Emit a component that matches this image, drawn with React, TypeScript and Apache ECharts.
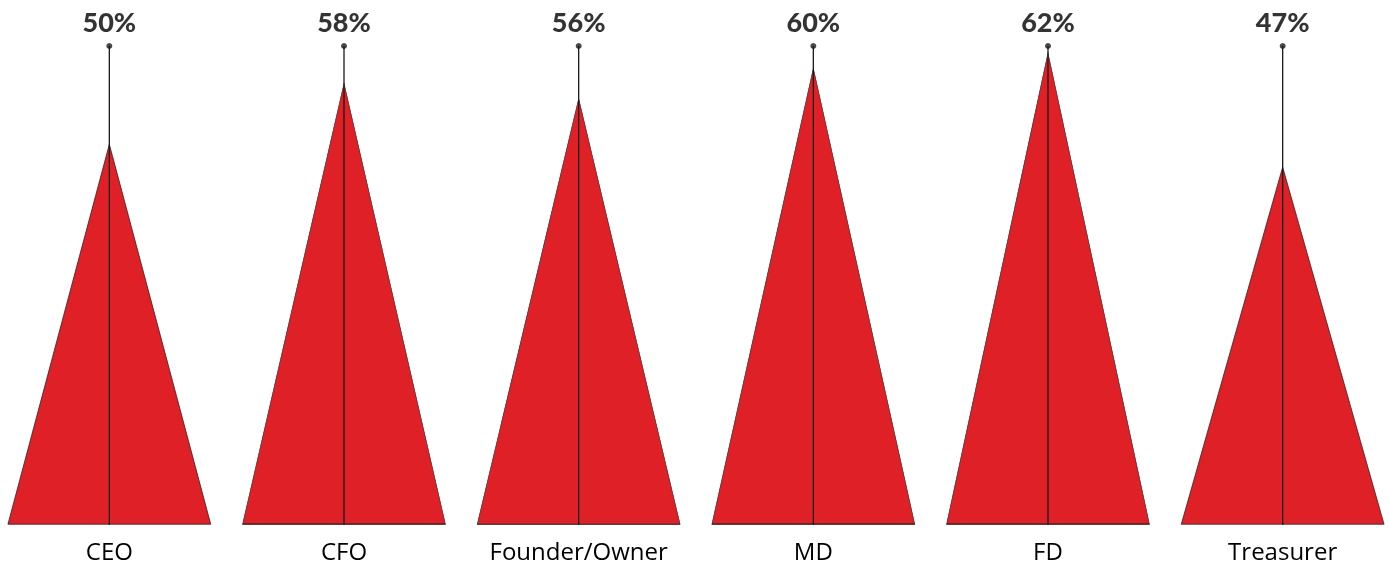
import React, { useEffect, useRef } from "react";
import * as echarts from "echarts";

const categories = ["CEO", "CFO", "Founder/Owner", "MD", "FD", "Treasurer"];
const values = [50, 58, 56, 60, 62, 47];
const axisMax = 63;

export default function App() {
  const ref = useRef<HTMLDivElement>(null);
  useEffect(() => {
    if (!ref.current) return;
    const chart = echarts.init(ref.current, null, { renderer: "svg" });
    const stems = values.map(() => axisMax);
    chart.setOption({
      animation: false,
      grid: { left: 0, right: 0, top: 46, bottom: 40 },
      xAxis: {
        type: "category",
        data: categories,
        axisLine: { show: false },
        axisTick: { show: false },
        axisLabel: {
          color: "#000",
          fontSize: 24,
          lineHeight: 24,
          fontFamily: "Open Sans",
          margin: 13,
          interval: 0,
        },
      },
      yAxis: {
        type: "value",
        min: 0,
        max: axisMax,
        show: false,
        splitLine: { show: false },
      },
      series: [
        {
          type: "pictorialBar",
          data: values,
          symbol: "triangle",
          symbolSize: [203, "100%"],
          barGap: "-100%",
          itemStyle: { color: "#E02027", borderColor: "#1a1a1a", borderWidth: 1 },
          z: 2,
        },
        {
          type: "bar",
          data: stems,
          barWidth: 1.3,
          barGap: "-100%",
          itemStyle: { color: "#1a1a1a" },
          z: 3,
        },
        {
          type: "scatter",
          data: stems,
          symbol: "circle",
          symbolSize: 6,
          itemStyle: { color: "#1a1a1a" },
          z: 4,
          label: {
            show: true,
            position: "top",
            distance: 8,
            fontSize: 27,
            fontWeight: 900,
            fontFamily: "Lato",
            color: "#000",
            formatter: (p: any) => values[p.dataIndex] + "%",
          },
        },
      ],
    });
    return () => chart.dispose();
  }, []);
  return (
    <div
      ref={ref}
      style={{ position: "fixed", left: -8, top: 0, width: 1408, height: 565 }}
    />
  );
}
